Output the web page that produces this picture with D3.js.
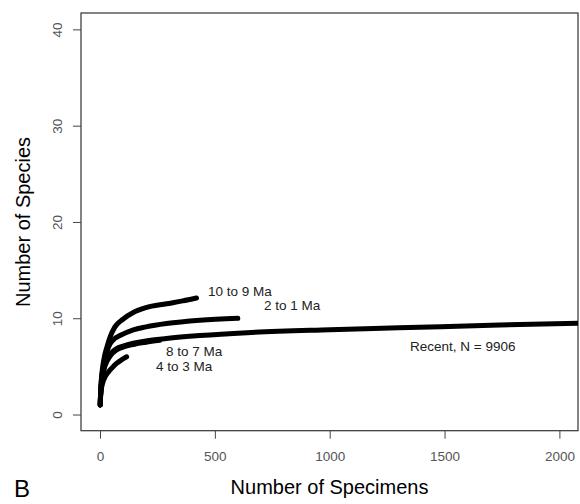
<!DOCTYPE html>
<html>
<head>
<meta charset="utf-8">
<script src="https://cdn.jsdelivr.net/npm/d3@7"></script>
<style>
  html, body { margin: 0; padding: 0; background: #fff; }
  svg { display: block; font-family: "Liberation Sans", Arial, sans-serif; }
</style>
</head>
<body>
<svg id="chart" width="580" height="504"></svg>
<script>
// Rarefaction curves: specimens sampled vs. expected species, by time bin
const xTicks = [0, 500, 1000, 1500, 2000];
const yTicks = [0, 10, 20, 30, 40];

const seriesNames = ["10 to 9 Ma", "2 to 1 Ma", "Recent, N = 9906", "8 to 7 Ma", "4 to 3 Ma"];

const specimens10to9 = [1, 2, 4, 7, 12, 20, 30, 43, 65, 100, 145, 200, 290, 360, 420];
const species10to9   = [1, 1.9, 3.0, 4.0, 5.0, 6.1, 7.0, 8.0, 9.1, 9.9, 10.6, 11.1, 11.5, 11.8, 12.1];

const specimens2to1 = [1, 2, 4, 7, 12, 20, 30, 43, 65, 87, 145, 200, 289, 435, 600];
const species2to1   = [1, 1.8, 2.8, 3.7, 4.6, 5.6, 6.5, 7.3, 7.9, 8.2, 8.8, 9.1, 9.45, 9.8, 10.0];

const specimensRecent = [1, 2, 4, 7, 12, 20, 30, 45, 72, 100, 145, 200, 289, 435, 640, 1000, 1300, 1740, 2100];
const speciesRecent   = [1, 1.7, 2.6, 3.4, 4.3, 5.1, 5.7, 6.3, 6.85, 7.1, 7.4, 7.65, 7.9, 8.2, 8.5, 8.8, 9.0, 9.3, 9.5];

const specimens8to7 = [1, 2, 4, 7, 12, 20, 30, 45, 72, 100, 150, 200, 260];
const species8to7   = [1, 1.7, 2.5, 3.3, 4.1, 4.9, 5.5, 6.1, 6.7, 7.0, 7.3, 7.5, 7.7];

const specimens4to3 = [1, 2, 4, 7, 12, 20, 36, 55, 72, 95, 116];
const species4to3   = [1, 1.6, 2.2, 2.8, 3.3, 3.8, 4.4, 4.9, 5.3, 5.7, 6.0];

const series = [
  { name: seriesNames[0], xs: specimens10to9,  ys: species10to9 },
  { name: seriesNames[1], xs: specimens2to1,   ys: species2to1 },
  { name: seriesNames[2], xs: specimensRecent, ys: speciesRecent },
  { name: seriesNames[3], xs: specimens8to7,   ys: species8to7 },
  { name: seriesNames[4], xs: specimens4to3,   ys: species4to3 }
];

// Curve labels, placed in the plot beside each curve
const labelPos = {
  "10 to 9 Ma":       [208, 296],
  "2 to 1 Ma":        [264, 310],
  "8 to 7 Ma":        [166, 356],
  "4 to 3 Ma":        [156, 371],
  "Recent, N = 9906": [410, 351]
};

const svg = d3.select("#chart");
const box = { left: 81, top: 13, right: 578, bottom: 430.7 };

const x = d3.scaleLinear().domain([-82.7, 2081]).range([box.left, box.right]);
const y = d3.scaleLinear().domain([-1.68, 41.7]).range([box.bottom, box.top]);

svg.append("defs").append("clipPath").attr("id", "plotClip")
  .append("rect")
  .attr("x", box.left).attr("y", box.top)
  .attr("width", box.right - box.left).attr("height", box.bottom - box.top);

// Plot frame
svg.append("rect")
  .attr("x", box.left).attr("y", box.top)
  .attr("width", box.right - box.left).attr("height", box.bottom - box.top)
  .attr("fill", "none").attr("stroke", "#333").attr("stroke-width", 1.2);

// X axis
const xAxis = svg.append("g")
  .attr("transform", `translate(0,${box.bottom})`)
  .call(d3.axisBottom(x).tickValues(xTicks).tickSize(8).tickPadding(13).tickFormat(d3.format("d")));
xAxis.select(".domain").remove();
xAxis.selectAll("line").attr("stroke", "#444");
xAxis.selectAll("text").attr("font-size", 13.5).attr("fill", "#555")
  .attr("font-family", "Liberation Sans, Arial, sans-serif");

// Y axis with rotated labels
const yAxis = svg.append("g")
  .attr("transform", `translate(${box.left},0)`)
  .call(d3.axisLeft(y).tickValues(yTicks).tickSize(8).tickFormat(d3.format("d")));
yAxis.select(".domain").remove();
yAxis.selectAll("line").attr("stroke", "#444");
yAxis.selectAll("text")
  .attr("font-size", 13.5).attr("fill", "#555")
  .attr("font-family", "Liberation Sans, Arial, sans-serif")
  .attr("x", null).attr("dy", null)
  .attr("text-anchor", "middle")
  .attr("transform", "translate(-19,0) rotate(-90)");

// Curves
const line = d3.line()
  .x(d => x(d[0]))
  .y(d => y(d[1]))
  .curve(d3.curveMonotoneX);

svg.append("g").attr("clip-path", "url(#plotClip)")
  .selectAll("path")
  .data(series)
  .join("path")
  .attr("d", s => line(s.xs.map((v, i) => [v, s.ys[i]])))
  .attr("fill", "none")
  .attr("stroke", "#000")
  .attr("stroke-width", 5)
  .attr("stroke-linecap", "round")
  .attr("stroke-linejoin", "round");

// Curve labels
svg.append("g").selectAll("text")
  .data(series)
  .join("text")
  .attr("x", s => labelPos[s.name][0])
  .attr("y", s => labelPos[s.name][1])
  .attr("font-size", 13.5)
  .attr("fill", "#222")
  .text(s => s.name);

// Axis titles
svg.append("text")
  .attr("x", (box.left + box.right) / 2).attr("y", 494)
  .attr("text-anchor", "middle").attr("font-size", 20).attr("fill", "#000")
  .text("Number of Specimens");

svg.append("text")
  .attr("transform", `translate(30,222) rotate(-90)`)
  .attr("text-anchor", "middle").attr("font-size", 20).attr("fill", "#000")
  .text("Number of Species");

// Panel letter
svg.append("text")
  .attr("x", 14).attr("y", 497)
  .attr("font-size", 24).attr("fill", "#000")
  .text("B");
</script>
</body>
</html>
